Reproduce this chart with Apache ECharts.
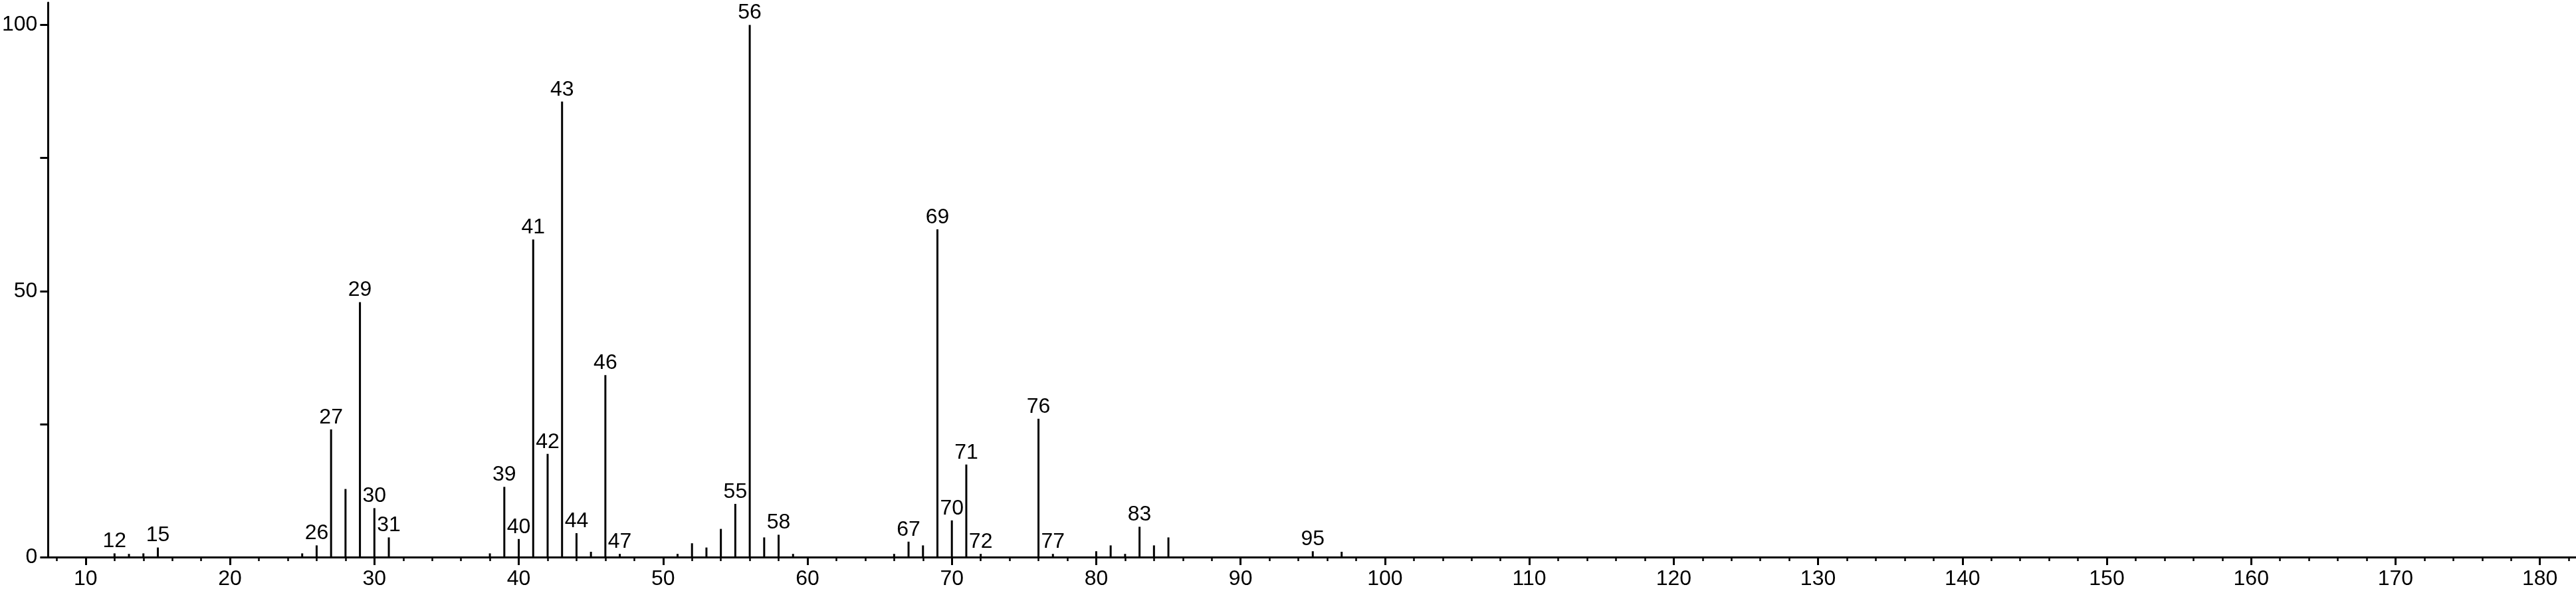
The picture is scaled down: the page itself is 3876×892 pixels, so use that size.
<!DOCTYPE html>
<html>
<head>
<meta charset="utf-8">
<script src="https://cdn.jsdelivr.net/npm/echarts@6/dist/echarts.min.js"></script>
<style>
html,body{margin:0;padding:0;background:#fff;}
#chart{width:3876px;height:892px;}
</style>
</head>
<body>
<div id="chart"></div>
<script>
// m/z values of the peaks
var mzValues = [12,13,14,15,25,26,27,28,29,30,31,38,39,40,41,42,43,44,45,46,47,51,52,53,54,55,56,57,58,59,66,67,68,69,70,71,72,76,77,80,81,82,83,84,85,95,97];
// relative intensities (%)
var intensities = [0.7,0.6,0.7,1.8,0.7,2.2,24.0,12.8,47.9,9.2,3.7,0.7,13.2,3.4,59.7,19.4,85.6,4.5,1.0,34.2,0.6,0.6,2.6,1.8,5.3,10.0,100,3.7,4.2,0.6,0.6,2.9,2.2,61.6,6.9,17.4,0.6,26.0,0.6,1.1,2.2,0.6,5.7,2.2,3.7,1.1,1.0];
// peaks that carry an m/z label
var labeledPeaks = [12,15,26,27,29,30,31,39,40,41,42,43,44,46,47,55,56,58,67,69,70,71,72,76,77,83,95];
// axis tick labels
var xTickLabels = [10,20,30,40,50,60,70,80,90,100,110,120,130,140,150,160,170,180];
var xMinorTicks = [8,10,12,14,16,18,20,22,24,26,28,30,32,34,36,38,40,42,44,46,48,50,52,54,56,58,60,62,64,66,68,70,72,74,76,78,80,82,84,86,88,90,92,94,96,98,100,102,104,106,108,110,112,114,116,118,120,122,124,126,128,130,132,134,136,138,140,142,144,146,148,150,152,154,156,158,160,162,164,166,168,170,172,174,176,178,180,182];
var yTicks = [0,25,50,75,100];
var yTickLabels = [0,50,100];

var FONT = "'Liberation Sans', Arial, sans-serif";
var seriesData = mzValues.map(function (m, i) {
  var item = { value: [m, intensities[i]] };
  if (labeledPeaks.indexOf(m) >= 0) {
    item.label = { show: true };
  }
  return item;
});

var chart = echarts.init(document.getElementById('chart'), null, { renderer: 'canvas' });
var X_MIN = 7.4, X_MAX = 182.5;
chart.setOption({
  animation: false,
  backgroundColor: '#ffffff',
  grid: { left: 69, right: 0, top: 4, bottom: 54, containLabel: false },
  xAxis: [
    {
      type: 'value', min: X_MIN, max: X_MAX,
      axisLine: { show: true, onZero: false, lineStyle: { color: '#000', width: 3 } },
      axisTick: { show: true, customValues: xTickLabels, length: 12, lineStyle: { color: '#000', width: 3 } },
      axisLabel: { show: true, customValues: xTickLabels, color: '#000', fontSize: 32, fontFamily: FONT, margin: 17 },
      splitLine: { show: false }
    },
    {
      type: 'value', min: X_MIN, max: X_MAX, position: 'bottom',
      axisLine: { show: false, onZero: false },
      axisTick: { show: true, customValues: xMinorTicks, length: 6, lineStyle: { color: '#000', width: 2.5 } },
      axisLabel: { show: false },
      splitLine: { show: false }
    }
  ],
  yAxis: {
    type: 'value', min: 0, max: 104.2,
    axisLine: { show: true, onZero: false, lineStyle: { color: '#000', width: 3 } },
    axisTick: { show: true, customValues: yTicks, length: 12, lineStyle: { color: '#000', width: 3 } },
    axisLabel: { show: true, customValues: yTickLabels, color: '#000', fontSize: 32, fontFamily: FONT, margin: 16 },
    splitLine: { show: false }
  },
  series: [{
    type: 'bar',
    xAxisIndex: 0,
    barWidth: 3,
    itemStyle: { color: '#000' },
    label: {
      show: false, position: 'top', distance: 2,
      color: '#000', fontSize: 32, fontFamily: FONT,
      formatter: function (p) { return String(p.value[0]); }
    },
    data: seriesData
  }]
});
</script>
</body>
</html>
